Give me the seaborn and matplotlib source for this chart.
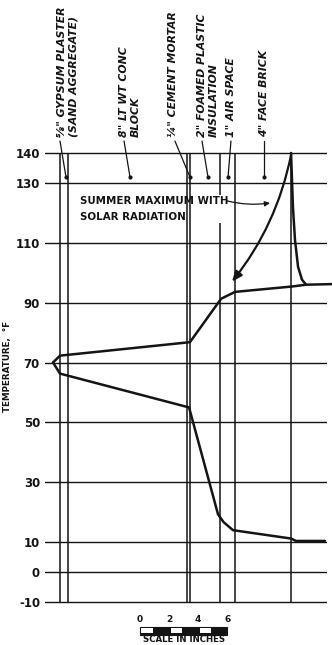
import numpy as np
import pandas as pd
import matplotlib
matplotlib.use("Agg")
from matplotlib import pyplot as plt
from matplotlib.patches import Rectangle
import seaborn as sns

# wall section, distances in inches from the inside face of the plaster
boundaries = [0.0, 0.55, 8.73, 8.93, 10.98, 12.03, 15.88]
yticks = [140, 130, 110, 90, 70, 50, 30, 10, 0, -10]

# summer maximum with solar radiation
summer_x = [-0.48, 0.0, 8.93, 11.07, 12.03, 15.95, 16.91, 18.69]
summer_t = [70, 72.3, 76.8, 91.3, 93.6, 95.4, 96.0, 96.2]

# winter
winter_x = [-0.48, 0.0, 8.87, 10.86, 11.24, 11.89, 15.88, 16.22, 18.21]
winter_t = [70, 66.3, 55.0, 19.3, 16.7, 14.0, 11.2, 10.4, 10.4]

# outer brick surface peak
surface_x = [15.88, 16.01, 16.15, 16.36, 16.63, 16.91]
surface_t = [140, 122, 111, 102, 97.7, 96.0]

layer_labels = ['⅝" GYPSUM PLASTER\n(SAND AGGREGATE)', '8" LT WT CONC\nBLOCK',
                '¼" CEMENT MORTAR', '2" FOAMED PLASTIC\nINSULATION',
                '1" AIR SPACE', '4" FACE BRICK']
label_x = [0.55, 4.81, 7.77, 10.17, 11.75, 14.02]
leader_from = [0.0, 4.40, 7.90, 9.76, 11.75, 14.02]
leader_to = [0.41, 4.81, 8.93, 10.17, 11.55, 14.02]

scale_ticks = [0, 2, 4, 6]
scale_origin = 5.5

ink = "#141414"

sns.set_style("white")
plt.rcParams['font.family'] = ['DejaVu Sans']

fig = plt.figure(figsize=(3.32, 6.45), dpi=100)
ax = fig.add_axes([45/332, 37/645, 282/332, 461/645])
ax.set_xlim(-1.031, 18.351)
ax.set_ylim(-12, 142)

# horizontal grid = temperature ticks
ax.set_yticks(yticks)
ax.set_yticklabels([str(t) for t in yticks], fontsize=8.5, fontweight="bold", color=ink)
ax.set_xticks([])
ax.tick_params(axis="y", length=0, pad=3.6)
ax.yaxis.grid(True, color=ink, lw=1.0)
ax.xaxis.grid(False)
for s in ax.spines.values():
    s.set_visible(False)

# layer boundaries
for i, b in enumerate(boundaries):
    ax.vlines(b, -10, 140, color=ink, lw=1.1, zorder=1.5 if i == 4 else 3)

df_s = pd.DataFrame({"x": summer_x, "t": summer_t})
df_w = pd.DataFrame({"x": winter_x, "t": winter_t})
df_o = pd.DataFrame({"x": surface_x, "t": surface_t})
for d in (df_s, df_w, df_o):
    sns.lineplot(data=d, x="x", y="t", ax=ax, color=ink, lw=1.8, sort=False,
                 estimator=None, clip_on=False, zorder=4)
ax.set_xlabel("")
ax.set_ylabel("")

# layer labels with leaders
for lab, lx, a, b in zip(layer_labels, label_x, leader_from, leader_to):
    ax.text(lx, 145.3, lab, rotation=90, ha="center", va="bottom", multialignment="left",
            fontsize=7.8, fontweight="bold", style="italic", color=ink, clip_on=False,
            linespacing=1.15)
    ax.plot([a, b], [144, 132], color=ink, lw=0.9, clip_on=False)
    ax.plot([b], [132], marker="o", ms=2, color=ink, clip_on=False)

# summer annotation
ax.text(1.37, 125.7, "SUMMER MAXIMUM WITH\nSOLAR RADIATION", ha="left", va="top",
        fontsize=7.4, fontweight="bold", color=ink, linespacing=1.75,
        bbox=dict(fc="white", ec="none", pad=0.5), zorder=2)
ax.annotate("", xy=(11.82, 97.0), xytext=(15.88, 139.3),
            arrowprops=dict(arrowstyle="-|>,head_length=0.6,head_width=0.25", color=ink, lw=1.6,
                            connectionstyle="arc3,rad=-0.12", shrinkA=0, shrinkB=0), zorder=4)
ax.annotate("", xy=(14.43, 123.3), xytext=(11.48, 124.0),
            arrowprops=dict(arrowstyle="-|>,head_length=0.3,head_width=0.15", color=ink, lw=0.9,
                            connectionstyle="arc3,rad=0.1", shrinkA=0, shrinkB=0), zorder=4)

# scale bar
ax.add_patch(Rectangle((scale_origin, -21.0), 6, 2.8, fc=ink, ec=ink, lw=0.8, clip_on=False))
for k in range(0, 6, 2):
    ax.add_patch(Rectangle((scale_origin + k + 0.1, -20.3), 0.8, 1.5, fc="white", ec="none",
                           clip_on=False))
for v in scale_ticks:
    ax.text(scale_origin + v, -16.0, str(v), ha="center", va="center", fontsize=6.5,
            fontweight="bold", color=ink, clip_on=False)
fig.text((60 + (scale_origin + 3) * 14.55) / 332, 1.5 / 645, "SCALE IN INCHES", ha="center",
         va="bottom", fontsize=6.2, fontweight="bold", color=ink)

fig.text(8/332, 1 - 366/645, "TEMPERATURE,  °F", rotation=90, ha="center", va="center",
         fontsize=6.3, fontweight="bold", color=ink)

fig.savefig("out.png", dpi=100)
